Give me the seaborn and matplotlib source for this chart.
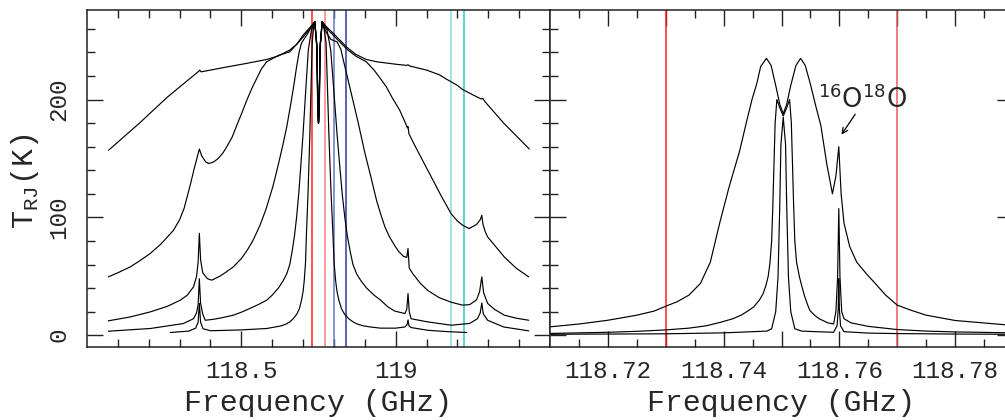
#!/usr/bin/env python3
# O2 118.75 GHz line: brightness temperature spectra, wide and zoomed view
import pandas as pd
import matplotlib
matplotlib.use('Agg')
import matplotlib.pyplot as plt
import seaborn as sns

# ---------------- data ----------------
# left panel, five spectra (widest -> narrowest)
freq_a = [118.07, 118.17, 118.26, 118.362, 118.365, 118.37, 118.45, 118.513, 118.582, 118.62,
          118.657, 118.68, 118.70, 118.715, 118.725, 118.738, 118.744, 118.7485, 118.75, 118.7515,
          118.756, 118.762, 118.775, 118.787, 118.81, 118.841, 118.87, 118.905, 118.94, 118.97,
          119.0, 119.035, 119.04, 119.045, 119.10, 119.142, 119.16, 119.18, 119.2, 119.217,
          119.25, 119.277, 119.282, 119.29, 119.35, 119.433]
tb_a = [157, 180, 202, 224, 225, 223.5, 227.5, 230.5, 234, 237,
        242, 247, 254.6, 259, 262, 266, 248, 195, 180, 195,
        248, 266, 262, 259, 253, 244.6, 238.5, 234, 232, 231,
        230, 229, 229.5, 228.5, 225, 221, 218, 215, 212, 208.5,
        204, 200.5, 201, 198, 180, 158]

freq_b = [118.069, 118.10, 118.14, 118.17, 118.205, 118.24, 118.28, 118.30, 118.315, 118.324,
          118.335, 118.346, 118.357, 118.364, 118.372, 118.385, 118.395, 118.41, 118.425, 118.44,
          118.453, 118.47, 118.485, 118.50, 118.517, 118.535, 118.55, 118.565, 118.582, 118.62,
          118.657, 118.70, 118.725, 118.738, 118.7445, 118.7482, 118.75, 118.7518, 118.7555, 118.762,
          118.775, 118.787, 118.841, 118.87, 118.905, 118.93, 118.95, 118.97, 118.99, 119.013,
          119.03, 119.038, 119.04, 119.043, 119.06, 119.08, 119.104, 119.13, 119.15, 119.18,
          119.2, 119.217, 119.238, 119.262, 119.274, 119.279, 119.283, 119.29, 119.298, 119.32,
          119.352, 119.39, 119.431]
tb_b = [49.5, 53, 58, 63, 69.4, 77.5, 89, 98, 108, 117,
        128, 140, 151, 158, 152, 147, 145.7, 147, 150, 154.5,
        160, 168, 178, 187.5, 199, 210, 218, 226, 232, 237.5,
        240.5, 253, 261, 266, 246, 193, 180, 193, 246, 266,
        261, 257.5, 243, 237, 232, 225, 218, 210.7, 201, 191,
        181, 176, 177, 171, 162, 152, 140, 127, 117, 103,
        97, 93.3, 90.5, 94, 98, 101.8, 94, 88, 83.4, 76.5,
        66.4, 57, 49.5]

freq_c = [118.069, 118.14, 118.205, 118.26, 118.302, 118.325, 118.345, 118.355, 118.36, 118.364,
          118.368, 118.375, 118.39, 118.404, 118.43, 118.45, 118.474, 118.50, 118.52, 118.538,
          118.56, 118.58, 118.602, 118.62, 118.635, 118.647, 118.66, 118.67, 118.679, 118.687,
          118.695, 118.705, 118.715, 118.727, 118.738, 118.7448, 118.7479, 118.75, 118.7521, 118.7552,
          118.762, 118.775, 118.79, 118.81, 118.822, 118.83, 118.84, 118.86, 118.878, 118.90,
          118.92, 118.938, 118.95, 118.965, 118.98, 118.997, 119.01, 119.025, 119.036, 119.04,
          119.044, 119.055, 119.08, 119.104, 119.14, 119.18, 119.217, 119.24, 119.262, 119.272,
          119.279, 119.285, 119.298, 119.32, 119.352, 119.39, 119.431]
tb_c = [12.2, 15.5, 19.8, 24.5, 29.7, 34, 41, 50, 62, 86.5,
        64, 53, 48, 46.7, 50, 53.5, 58, 65, 72.5, 80.6,
        93, 107, 126, 145, 162, 176.7, 196, 212, 227.7, 240,
        248, 252, 256, 262, 266, 244, 192, 180, 192, 244,
        266, 257, 251, 249, 243, 234, 223, 201, 181, 155,
        134, 114.5, 104, 92, 83.5, 76, 71, 67, 66, 73.6,
        57, 52.4, 44, 38, 32, 28, 25.5, 26, 30, 37,
        49.5, 36, 27, 22, 17, 14.5, 12.7]

freq_d = [118.069, 118.205, 118.312, 118.345, 118.355, 118.36, 118.364, 118.368, 118.375, 118.383,
          118.41, 118.44, 118.474, 118.50, 118.53, 118.555, 118.582, 118.60, 118.62, 118.635,
          118.647, 118.657, 118.665, 118.672, 118.679, 118.686, 118.693, 118.70, 118.708, 118.717,
          118.727, 118.738, 118.7452, 118.7476, 118.75, 118.7524, 118.7548, 118.762, 118.7776, 118.7896,
          118.8004, 118.81, 118.8184, 118.8268, 118.8352, 118.8436, 118.852, 118.8616, 118.8736, 118.888,
          118.906, 118.93, 118.9516, 118.975, 118.997, 119.03, 119.036, 119.04, 119.044, 119.05,
          119.104, 119.18, 119.24, 119.265, 119.274, 119.279, 119.284, 119.298, 119.35, 119.431]
tb_d = [3.4, 5.7, 9.9, 14, 19, 26, 48, 27, 18, 12.7,
        13.5, 15, 17, 19.5, 23, 26, 29.7, 34, 40, 46,
        52, 60, 72, 84, 100, 120, 145, 171, 205, 242,
        259, 266, 243, 190, 180, 190, 243, 266, 259, 242,
        205, 171, 145, 120, 100, 84, 72, 60, 52, 46,
        40, 34, 29.7, 24, 20.5, 18.4, 22, 35.4, 20, 14,
        11.3, 8.5, 10, 14, 19, 27.4, 18, 12.7, 7, 3.7]

freq_e = [118.27, 118.33, 118.352, 118.36, 118.364, 118.368, 118.376, 118.40, 118.50, 118.582,
          118.61, 118.63, 118.645, 118.657, 118.668, 118.68, 118.688, 118.695, 118.70, 118.704,
          118.708, 118.711, 118.716, 118.719, 118.722, 118.726, 118.7295, 118.734, 118.738, 118.7456,
          118.7473, 118.75, 118.7527, 118.7544, 118.762, 118.768, 118.7746, 118.7788, 118.7836, 118.7872,
          118.7908, 118.7968, 118.8004, 118.8052, 118.81, 118.816, 118.8244, 118.834, 118.848, 118.862,
          118.876, 118.894, 118.918, 118.95, 119.0, 119.03, 119.037, 119.04, 119.043, 119.05,
          119.104, 119.17, 119.23]
tb_e = [2.3, 3.5, 6, 11, 27, 11, 5.5, 3.8, 4.5, 5.7,
        7, 8, 9.5, 11.3, 14, 18, 22.5, 29.7, 37, 47,
        62, 86, 120, 145, 171, 212, 248, 261, 266, 242,
        188, 180, 188, 242, 266, 260, 248, 212, 171, 145,
        120, 86, 62, 47, 37, 29.7, 22.5, 18, 14, 11.3,
        9.5, 8, 7, 6, 6, 7, 9, 13, 8, 6.5,
        4.2, 3, 2.3]

# right panel, three spectra (widest -> narrowest)
freq_r1 = [118.71, 118.715, 118.72, 118.725, 118.728, 118.73, 118.732, 118.734, 118.736, 118.7377,
           118.7393, 118.7409, 118.7428, 118.7439, 118.7449, 118.7457, 118.7464, 118.7474, 118.7482, 118.749,
           118.7497, 118.7503, 118.7509, 118.7516, 118.7525, 118.7533, 118.7541, 118.755, 118.756, 118.7568,
           118.7578, 118.7588, 118.7594, 118.7599, 118.7603, 118.7608, 118.7618, 118.763, 118.7647, 118.766,
           118.768, 118.77, 118.7725, 118.775, 118.78, 118.79]
tb_r1 = [7.1, 9.5, 12.7, 17, 20.5, 24.6, 28.5, 34, 44, 62,
         94.8, 125, 157, 180, 200, 213, 228, 235, 229, 212,
         196, 188, 196, 212, 229, 235, 229, 213, 193, 178,
         146, 120, 135, 160, 120, 95, 75, 62, 52, 45,
         34, 25.5, 21, 17, 12.5, 8.3]

freq_r2 = [118.71, 118.72, 118.725, 118.73, 118.734, 118.737, 118.7395, 118.7416, 118.743, 118.744,
           118.7452, 118.7462, 118.7468, 118.7473, 118.7477, 118.748, 118.7483, 118.7485, 118.7487, 118.7489,
           118.7492, 118.7497, 118.7503, 118.7509, 118.7514, 118.7517, 118.7519, 118.7521, 118.7523, 118.7526,
           118.7531, 118.7536, 118.754, 118.7545, 118.7549, 118.7557, 118.7565, 118.758, 118.759, 118.7594,
           118.7597, 118.7599, 118.7601, 118.7604, 118.7608, 118.762, 118.765, 118.77, 118.775, 118.78,
           118.79]
tb_r2 = [1.5, 2.5, 3.3, 4.5, 6, 8, 11, 14, 17, 20,
         24, 30, 35, 42, 50, 61, 80, 110, 145, 180,
         200, 193, 186, 193, 200, 180, 145, 110, 80, 62,
         49.5, 40, 33, 26, 21, 17, 14, 10.5, 9.5, 20,
         50, 107.5, 50, 20, 14, 10.5, 7.5, 4.8, 3.5, 2.8,
         2]

freq_r3 = [118.71, 118.73, 118.74, 118.745, 118.7475, 118.7483, 118.749, 118.7494, 118.7497, 118.7499,
           118.7503, 118.7507, 118.7509, 118.7512, 118.7516, 118.7523, 118.7535, 118.756, 118.759, 118.7596,
           118.7598, 118.7599, 118.76, 118.7602, 118.7608, 118.765, 118.77, 118.78, 118.79]
tb_r3 = [0.8, 1.2, 2, 3, 3.5, 5.5, 20, 49.5, 110, 162,
         185, 162, 110, 49.5, 20, 5.5, 3.5, 3, 2.5, 8,
         22, 48, 22, 8, 3, 1.8, 1.4, 1, 0.8]

# marker lines (GHz) and their colours
left_vlines = [118.73, 118.77, 118.80, 118.84, 119.18, 119.22]
left_vcolors = ['#ff2020', '#f48080', '#6a74b8', '#2a38a0', '#86dede', '#34c6c6']
right_vlines = [118.73, 118.77]
right_vcolors = ['#ff2020', '#ea5a60']


def to_frame(curves):
    return pd.concat([pd.DataFrame({'freq': f, 'tb': t, 'curve': n}) for n, (f, t) in curves.items()],
                     ignore_index=True)


left = to_frame({'a': (freq_a, tb_a), 'b': (freq_b, tb_b), 'c': (freq_c, tb_c),
                 'd': (freq_d, tb_d), 'e': (freq_e, tb_e)})
right = to_frame({'r1': (freq_r1, tb_r1), 'r2': (freq_r2, tb_r2), 'r3': (freq_r3, tb_r3)})

# ---------------- style ----------------
sns.set_style('ticks')
plt.rcParams['font.family'] = ['Liberation Mono', 'DejaVu Sans']
plt.rcParams['axes.linewidth'] = 1.1
plt.rcParams['axes.edgecolor'] = '#222222'

fig = plt.figure(figsize=(10.05, 4.2), dpi=100)
ax1 = fig.add_axes([87/1005, 73/420, 463/1005, 337/420])
ax2 = fig.add_axes([550/1005, 73/420, 463/1005, 337/420])   # runs past the right edge, like the original

for f, c in zip(left_vlines, left_vcolors):
    ax1.axvline(f, color=c, lw=1.1, zorder=1)
for f, c in zip(right_vlines, right_vcolors):
    ax2.axvline(f, color=c, lw=1.1, zorder=1)

sns.lineplot(data=left, x='freq', y='tb', units='curve', estimator=None, sort=False,
             color='black', lw=0.85, ax=ax1, zorder=2)
sns.lineplot(data=right, x='freq', y='tb', units='curve', estimator=None, sort=False,
             color='black', lw=0.85, ax=ax2, zorder=2)

ax1.set_xlim(118.0, 119.5)
ax2.set_xlim(118.71, 118.79)
for ax in (ax1, ax2):
    ax.set_ylim(-10, 276)
    ax.set_yticks([0, 100, 200])
    ax.set_yticks(range(0, 276, 20), minor=True)
    ax.tick_params(which='both', direction='in', top=True, right=True, width=1.0, color='#222222')
    ax.tick_params(which='major', length=11.5)
    ax.tick_params(which='minor', length=5.8)
    ax.tick_params(axis='x', labelsize=17.5, pad=9)
    ax.set_xlabel('Frequency (GHz)', fontsize=21.5)
    ax.xaxis.set_label_coords(0.5, -0.125)

ax1.set_xticks([118.5, 119.0])
ax1.set_xticklabels(['118.5', '119'])
ax1.set_xticks([118.1 + 0.1*i for i in range(14)], minor=True)

ax2.set_xticks([118.72 + 0.01*i for i in range(7)])
ax2.set_xticklabels(['118.72', '', '118.74', '', '118.76', '', '118.78'])
ax2.set_xticks([118.715 + 0.01*i for i in range(8)], minor=True)

ax1.tick_params(axis='y', labelsize=17.5, pad=12, labelrotation=90)
for lab in ax1.get_yticklabels():
    lab.set_va('center')
ax2.tick_params(axis='y', labelleft=False)

ax1.set_ylabel(r'T$_\mathregular{RJ}$(K)', fontsize=21.5)
ax1.yaxis.set_label_coords(-0.10, 0.49)
ax2.set_ylabel('')

ax2.text(118.7563, 193, r'$^{16}$O$^{18}$O', fontsize=18.5, family=['DejaVu Sans'])
ax2.annotate('', xy=(118.7601, 168.3), xytext=(118.763, 189.5),
             arrowprops=dict(arrowstyle='->', color='black', lw=0.9))

fig.savefig('out.png', dpi=100)
